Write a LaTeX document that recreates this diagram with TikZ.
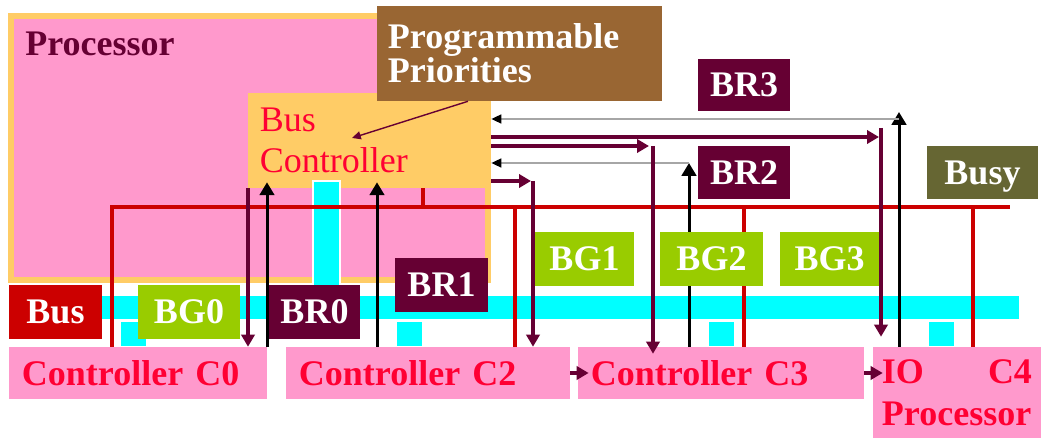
\documentclass[tikz,border=0pt]{standalone}
\usepackage{fontspec}
\setmainfont{Liberation Serif}
\usetikzlibrary{arrows.meta,positioning,calc}
\definecolor{cPink}{HTML}{FF99CC}
\definecolor{cOrange}{HTML}{FFCC66}
\definecolor{cBrown}{HTML}{996633}
\definecolor{cMaroon}{HTML}{660033}
\definecolor{cGreen}{HTML}{99CC00}
\definecolor{cRed}{HTML}{CC0000}
\definecolor{cOlive}{HTML}{666633}
\definecolor{cCyan}{HTML}{00FFFF}
\definecolor{cText}{HTML}{FF0033}
\definecolor{cGray}{HTML}{A6A6A6}
\newcommand\dgmfont{\fontsize{25.6}{29}\selectfont\bfseries}
\newcommand\dgmprog{\fontsize{25.6}{24.2}\selectfont\bfseries}
\newcommand\dgmbc{\fontsize{25.6}{29.2}\selectfont}
\newcommand\dgmio{\fontsize{25.6}{29.9}\selectfont\bfseries}
\tikzset{
  lbl/.style   = {rectangle, inner sep=0pt, text=white, text depth=0pt,
                  font=\dgmfont, minimum height=1.35cm},
  brlbl/.style = {lbl, fill=cMaroon},
  bglbl/.style = {lbl, fill=cGreen},
  ctrl/.style  = {rectangle, fill=cPink, text=cText, font=\dgmfont,
                  align=left, inner xsep=0.325cm, inner ysep=0pt, minimum height=1.3cm},
  req/.style   = {black, line width=0.075cm, -{Triangle[length=0.32cm,width=0.36cm]}},
  grant/.style = {cMaroon, line width=0.1cm, -{Triangle[length=0.3cm,width=0.33cm]}},
  ret/.style   = {cGray, line width=0.05cm, -{Triangle[color=black,length=0.25cm,width=0.22cm]}},
  note/.style  = {cMaroon, line width=0.035cm, -{Triangle[length=0.22cm,width=0.2cm]}},
  busline/.style = {cRed, line width=0.12cm},
  tap/.style   = {fill=cCyan, draw=white, line width=0.03cm},
}
\begin{document}
\begin{tikzpicture}[x=0.025cm, y=-0.025cm]
  \useasboundingbox (0,0) rectangle (1041,438);
  % processor with its bus controller
  \node[rectangle, fill=cPink, draw=cOrange, line width=0.15cm, inner sep=0pt,
        minimum width=11.91cm, minimum height=6.61cm] (proc) at (249.25,148.25) {};
  \node[font=\dgmfont, text=cMaroon, anchor=base west, inner sep=0pt] (proct) at (25,56) {Processor};
  \node[rectangle, fill=cOrange, minimum width=6.075cm, minimum height=2.375cm,
        inner xsep=0.3cm, inner ysep=0pt, text width=5.475cm, align=left,
        text=cText, font=\dgmbc] (bc) at (369.5,140.5) {Bus\\Controller};
  \node[rectangle, fill=cBrown, minimum width=7.125cm, minimum height=2.375cm,
        inner xsep=0.275cm, inner ysep=0pt, text width=6.575cm, align=left,
        text=white, font=\dgmprog] (prog) at (519.5,53.5) {Programmable\\Priorities};
  % the bus and its taps
  \filldraw[tap] (313,181) rectangle (340,300);
  \fill[cCyan] (100,296) rectangle (1019,319);
  \foreach \x in {120,396,708,928}
    \filldraw[tap] (\x,321) rectangle ++(27,26);
  % labels
  \node[lbl, fill=cRed, minimum width=2.325cm] (bus) at (55.5,312) {Bus};
  \node[bglbl, minimum width=2.55cm] (bg0) at (189,312) {BG0};
  \node[brlbl, minimum width=2.275cm] (br0) at (314.5,312) {BR0};
  \node[brlbl, minimum width=2.325cm] (br1) at (441.5,285) {BR1};
  \node[bglbl, minimum width=2.475cm] (bg1) at (584.5,259) {BG1};
  \node[bglbl, minimum width=2.475cm] (bg3) at (829.5,259) {BG3};
  \node[brlbl, minimum width=2.3cm, minimum height=1.3cm] (br3) at (744,85) {BR3};
  \node[brlbl, minimum width=2.3cm, minimum height=1.325cm] (br2) at (744,172.5) {BR2};
  \node[lbl, fill=cOlive, minimum width=2.775cm, minimum height=1.325cm] (busy) at (982.5,172.5) {Busy};
  % controllers
  \node[ctrl, text width=5.8cm] (c0) at (138,373) {Controller C0};
  \node[ctrl, text width=6.45cm] (c2) at (428,373) {Controller C2};
  \node[ctrl, text width=6.5cm] (c3) at (721,373) {Controller C3};
  \node[ctrl, text width=3.75cm, inner xsep=0.225cm, minimum height=2.275cm,
        font=\dgmio] (c4) at (957,392.5) {\makebox[3.75cm]{IO\hfill C4}\\Processor};
  % busy line
  \coordinate (bl) at (112,207);
  \coordinate (br) at (1010,207);
  \coordinate (d1) at (423,207);
  \coordinate (d2) at (515,207);
  \coordinate (d3) at (744,207);
  \coordinate (d4) at (973,207);
  \draw[busline] (c0.north -| bl) -- (bl) -- (br);
  \draw[busline] (bc.south -| d1) -- (d1);
  \foreach \d/\n in {d2/c2,d3/c3,d4/c4}
    \draw[busline] (\d) -- (\d |- \n.north);
  % requests
  \coordinate (r0) at (267,0);
  \coordinate (r1) at (377,0);
  \coordinate (r2) at (689,163);
  \coordinate (r3) at (899,119);
  \draw[req, shorten >=-0.15cm] (c0.north -| r0) -- (bc.south -| r0);
  \draw[req, shorten >=-0.15cm] (c2.north -| r1) -- (bc.south -| r1);
  \draw[req] (c3.north -| r2) -- (r2);
  \draw[ret] (r2) -- (bc.east |- r2);
  \draw[req, shorten >=-0.175cm] (c4.north -| r3) -- (r3);
  \draw[ret] (r3) -- (bc.east |- r3);
  % grants
  \coordinate (g0) at (248,0);
  \coordinate (g1) at (533,181);
  \coordinate (g2) at (653,146);
  \coordinate (g3) at (881,137);
  \coordinate (g3t) at (881,128);
  \draw[grant] (bc.south -| g0) -- (c0.north -| g0);
  \draw[grant, shorten >=0.05cm] (bc.east |- g1) -- (g1);
  \draw[grant] (g1) -- (g1 |- c2.north);
  \draw[grant, shorten >=0.1cm] (bc.east |- g2) -- (g2);
  \draw[grant, shorten >=-0.175cm] (g2) -- (g2 |- c3.north);
  \draw[grant, shorten >=0.05cm] (bc.east |- g3) -- (g3);
  \draw[grant, shorten >=0.25cm] (g3t) -- (g3t |- c4.north);
  % daisy chain
  \draw[grant, shorten >=-0.275cm] (c2.east) -- (c3.west);
  \draw[grant, shorten >=-0.25cm] (c3.east) -- (c3.east -| c4.west);
  % programmable priorities
  \coordinate (pa) at (468,0);
  \coordinate (pb) at (352,138);
  \draw[note] (prog.south -| pa) -- (pb);
  \node[bglbl, minimum width=2.575cm] (bg2) at (711.5,259) {BG2};
\end{tikzpicture}
\end{document}
